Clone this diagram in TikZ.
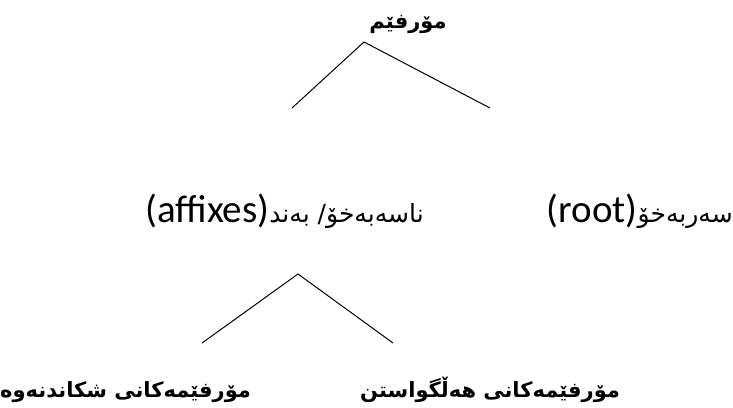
\documentclass[tikz,border=0pt]{standalone}
\usepackage{fontspec}
\setmainfont{Carlito}
\newfontfamily\arabicfont[Script=Arabic]{DejaVu Sans}
\TeXXeTstate=1
\usetikzlibrary{positioning}

\tikzset{
  kurdbold/.style={inner sep=0pt,font=\arabicfont\bfseries\fontsize{21}{25}\selectfont},
  kurdplain/.style={inner sep=0pt,font=\fontsize{39}{42}\selectfont},
  branch/.style={line width=1pt}
}
\newcommand{\kurdmid}{\arabicfont\fontsize{25}{29}\selectfont}

\begin{document}
\begin{tikzpicture}[x=1pt,y=-1pt]
                \useasboundingbox (0,0) rectangle (733,407);
                \node[kurdbold,anchor=base] (morph) at (408,28) {\beginR مۆرفێم\endR};
                \coordinate (topapex) at (364,42);
                \coordinate (topleft) at (292,108);
                \coordinate (topright) at (490,108);
                \draw[branch] (topleft) -- (topapex) -- (topright);
                \node[kurdplain,anchor=base west] (bound) at (145,222) {(affixes){\kurdmid\beginR ناسەبەخۆ\kern0pt/ بەند\endR}};
                \node[kurdplain,anchor=base east] (free) at (733,222) {(root){\kurdmid\beginR سەربەخۆ\endR}};
                \coordinate (lowapex) at (298,274);
                \coordinate (lowleft) at (202,343);
                \coordinate (lowright) at (393,343);
                \draw[branch] (lowleft) -- (lowapex) -- (lowright);
                \node[kurdbold,anchor=base west] (breaking) at (0,397) {\beginR مۆرفێمەکانی شکاندنەوە\endR};
                \node[kurdbold,anchor=base west] (inflect) at (360,397) {\beginR مۆرفێمەکانی هەڵگواستن\endR};
            \end{tikzpicture}
\end{document}
